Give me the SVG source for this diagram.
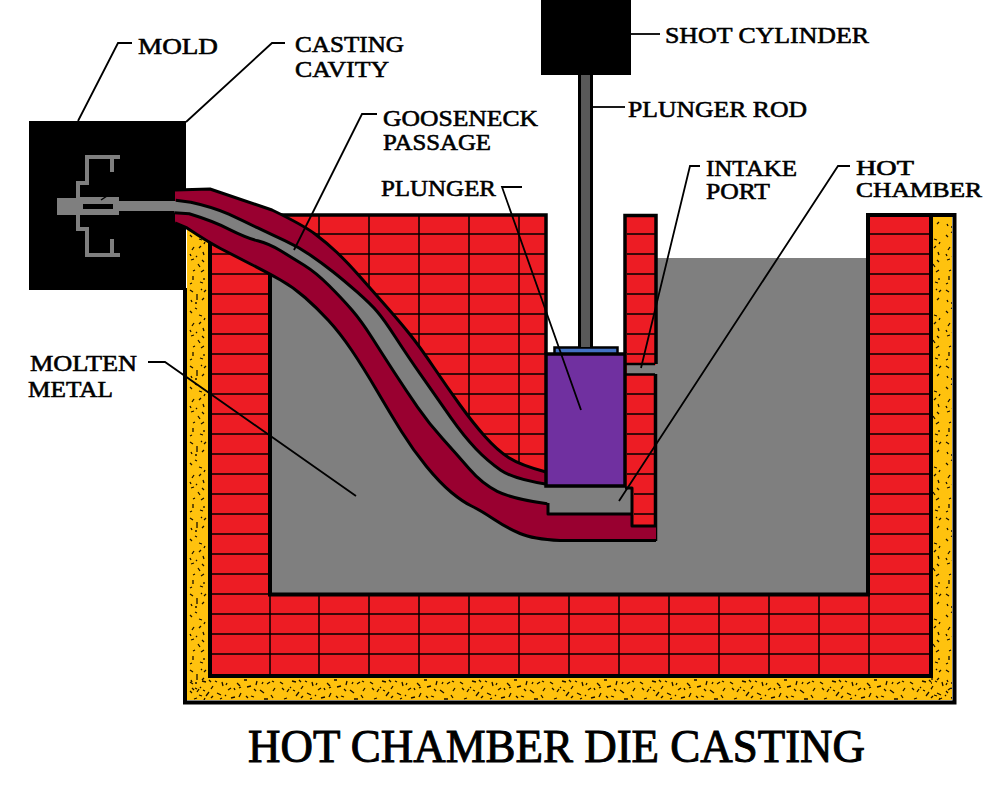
<svg xmlns="http://www.w3.org/2000/svg" width="1000" height="800" viewBox="0 0 1000 800">
<style>
.t{font-family:"Liberation Serif","Times New Roman",serif;font-size:24px;fill:#000;stroke:#000;stroke-width:.6px}
.m{font-size:23px}
.s{font-size:21px}
.title{font-size:47px;stroke-width:1px}
.l{fill:none;stroke:#000;stroke-width:1.8}
.b{fill:none;stroke:#000;stroke-width:1.5}
.k{fill:none;stroke:#000;stroke-width:4}
.e{fill:none;stroke:#000;stroke-width:3;stroke-linejoin:round}
.sp{fill:none;stroke:#1a1000;stroke-width:1.3}
</style>
<defs>
<pattern id="dense" width="90" height="24" patternUnits="userSpaceOnUse" patternTransform="translate(187 678)">
<path class="sp" d="M3 4l3 2M10 14l2-3M15 3l4 1M19 18l3-4M26 8l-2 3M30 15l4 2M35 4l1 4M41 12l3-2M44 20l4-1M50 5l3 3M54 15l-2 4M60 9l4-1M64 18l3 1M70 3l-1 4M73 12l4 3M80 6l3-2M84 17l2 3M7 21l3-1M33 21l2-1M57 2l3 0M77 21l4 0M47 10l1 2M22 2l2 2M88 10l-2 3M13 9l1 1M38 17l1 1M5 10l2 2M16 12l2 1M28 3l2 1M24 20l2-2M39 7l1-2M52 10l2-1M67 11l2 2M75 6l1-2M85 3l2 1M61 20l-2-2"/>
</pattern>
<pattern id="sparse" width="21" height="76" patternUnits="userSpaceOnUse" patternTransform="translate(187 230)">
<path class="sp" d="M3 5l2 2M12 9l3 1M7 17l-2 3M16 22l1 3M4 30l3-1M11 34l2 3M17 40l-3 2M6 46l0 4M13 52l3 1M3 60l3 2M10 64l0 6M17 68l-2 2M8 73l2 0M18 12l-1 2M9 26l1 1M14 59l1 1M8 2l2 1M14 16l-2 2M3 24l1 2M15 30l2 2M8 40l-2 1M17 48l0 2M3 54l2-1M17 62l2-2M4 70l1 2"/>
</pattern>
</defs>
<rect width="1000" height="800" fill="#fff"/>
<g id="furnace">
<path d="M187 215V700H952V215H931V676H208V215Z" fill="#ffc20e"/>
<path d="M187 226V700H208V226ZM931 217H952V700H931Z" fill="url(#sparse)"/>
<rect x="187" y="678" width="765" height="22" fill="url(#dense)"/>
</g>
<g id="brick-lining">
<path d="M208 214H546V487H625V214H656V541H868V214H931V676H208Z" fill="#ed1c24"/>
<path class="b" d="M208 234H546M208 254H546M208 274H546M208 294H546M208 314H546M208 334H546M208 354H546M208 374H546M208 394H546M208 414H546M208 434H546M208 454H546M208 474H270M208 494H270M208 514H270M208 534H270M208 554H270M208 574H270M208 594H270M627 234H656M627 254H656M627 274H656M627 294H656M627 314H656M627 334H656M627 354H656M627 394H656M627 414H656M627 434H656M627 454H656M627 474H656M634 494H656M634 514H656M868 234H931M868 254H931M868 274H931M868 294H931M868 314H931M868 334H931M868 354H931M868 374H931M868 394H931M868 414H931M868 434H931M868 454H931M868 474H931M868 494H931M868 514H931M868 534H931M868 554H931M868 574H931M868 594H931M208 614H931M208 634H931M208 654H931"/>
<path class="b" d="M319 214V290M369 214V300M419 214V400M469 214V470M519 214V480M270 596V676M319 596V676M369 596V676M419 596V676M469 596V676M519 596V676M569 596V676M619 596V676M669 596V676M719 596V676M769 596V676M819 596V676M869 596V676"/>
</g>
<g id="molten-metal">
<path fill="#7f7f7f" d="M270 272L293 287L317 308L340 333L363 367L390 413L413 450L440 483L463 502L480 510L507 528L533 539L560 541H656V258H868V594H270Z"/>
<path class="k" d="M270 272V594.500H868V215H931V676H210"/>
<path class="k" d="M210 240V678M185 288V702.500H954.500V215H868"/>
<path d="M280 215H546V353M625 353V215.500H656V364M655.500 374V541" fill="none" stroke="#000" stroke-width="3.500"/>
<rect x="627" y="365" width="30" height="9" fill="#7f7f7f"/>
<path d="M626 364H655M626 374.500H655" fill="none" stroke="#000" stroke-width="2.500"/>
</g>
<g id="mold">
<rect x="29" y="121" width="157" height="169" fill="#000"/>
<path fill="#7f7f7f" d="M85 155H120V159H114V172H110V159H89V185H80V197H119V215H80V227H89V253H110V239H114V253H120V257H85V231H76V215H57V198H76V181H85Z"/>
<rect x="83" y="204" width="30" height="5" fill="#000"/>
<path d="M101 200L107 196" stroke="#000" stroke-width="1.500"/>
<rect x="119" y="202" width="56" height="8" fill="#7f7f7f"/>
</g>
<g id="gooseneck">
<path fill="#990030" d="M175 190L210 189L272 210Q303 225 315 234Q327 243 337 252.500Q347 262 358.500 275Q370 288 385 305Q400 322 410 334.500Q420 347 433.500 367Q447 387 460 405Q473 423 485 436.500Q497 450 508.500 457.500Q520 465 546 472V487H625L632 488V526H656V541H560Q533 539 520 533.500Q507 528 493.500 519Q480 510 471.500 506Q463 502 451.500 492.500Q440 483 426.500 466.500Q413 450 401.500 431.500Q390 413 376.500 390Q363 367 351.500 350Q340 333 328.500 320.500Q317 308 305 297.500Q293 287 280.500 280Q268 273 250.500 264Q233 255 220.500 248.500Q208 242 187 228L175 223Z"/>
<path fill="#7f7f7f" stroke="#7f7f7f" stroke-width="2" d="M119 202H175L190 203Q213 208 228 215Q243 222 256.500 228.500Q270 235 284 241.500Q298 248 309 255.500Q320 263 331.500 272Q343 281 356.500 293Q370 305 376.500 312.500Q383 320 395 338.500Q407 357 422 378.500Q437 400 450 418.500Q463 437 475 449.500Q487 462 500 471Q513 480 546 485L625 487L632 488V514H548V503Q513 498 498 490.500Q483 483 470 468Q457 453 443.500 438Q430 423 418.500 406.500Q407 390 395 371.500Q383 353 372.500 336.500Q362 320 352.500 309Q343 298 330 285Q317 272 305 264.500Q293 257 281.500 250Q270 243 258.500 240Q247 237 230 228.500Q213 220 190 213L175 212V210H119Z"/>
<path class="e" d="M175 190L210 189L272 210Q303 225 315 234Q327 243 337 252.500Q347 262 358.500 275Q370 288 385 305Q400 322 410 334.500Q420 347 433.500 367Q447 387 460 405Q473 423 485 436.500Q497 450 508.500 457.500Q520 465 546 472"/>
<path class="e" transform="translate(.8 -.8)" d="M175 201L190 203Q213 208 228 215Q243 222 256.500 228.500Q270 235 284 241.500Q298 248 309 255.500Q320 263 331.500 272Q343 281 356.500 293Q370 305 376.500 312.500Q383 320 395 338.500Q407 357 422 378.500Q437 400 450 418.500Q463 437 475 449.500Q487 462 500 471Q513 480 546 485"/>
<path class="e" transform="translate(-.8 .8)" d="M175 212L190 213Q213 220 230 228.500Q247 237 258.500 240Q270 243 281.500 250Q293 257 305 264.500Q317 272 330 285Q343 298 352.500 309Q362 320 372.500 336.500Q383 353 395 371.500Q407 390 418.500 406.500Q430 423 443.500 438Q457 453 470 468Q483 483 498 490.500Q513 498 548 503"/>
<path class="e" d="M548 503V514H632V488H625M632 514V526H656"/>
<path class="e" d="M175 223L187 228Q208 242 220.500 248.500Q233 255 250.500 264Q268 273 280.500 280Q293 287 305 297.500Q317 308 328.500 320.500Q340 333 351.500 350Q363 367 376.500 390Q390 413 401.500 431.500Q413 450 426.500 466.500Q440 483 451.500 492.500Q463 502 471.500 506Q480 510 493.500 519Q507 528 520 533.500Q533 539 560 540.500H656"/>
</g>
<g id="plunger">
<rect x="546" y="354" width="79" height="132" fill="#7030a0" stroke="#000" stroke-width="3.500"/>
<rect x="554.500" y="347.500" width="63" height="6" fill="#4472c4" stroke="#000" stroke-width="2.500"/>
</g>
<g id="plunger-rod">
<rect x="578" y="74" width="15" height="273" fill="#000"/>
<rect x="581" y="74" width="9" height="273" fill="#595959"/>
</g>
<g id="shot-cylinder">
<rect x="541" y="0" width="90" height="75" fill="#000"/>
</g>
<g id="connectors">
<path class="l" d="M132 43H118L78 121"/>
<path class="l" d="M285 43H272L186 122"/>
<path class="l" d="M377 114H362L294 250"/>
<path class="l" d="M522 187H502L581 410"/>
<path class="l" d="M660 34H631"/>
<path class="l" d="M625 107H593"/>
<path class="l" d="M700 166H690L641 368"/>
<path class="l" d="M850 166H838L619 501"/>
<path class="l" d="M148 362H165L356 496"/>
</g>
<g id="labels">
<text class="t" x="138" y="54" textLength="80" lengthAdjust="spacingAndGlyphs">MOLD</text>
<text class="t" x="295" y="52" textLength="109" lengthAdjust="spacingAndGlyphs">CASTING</text>
<text class="t" x="295" y="77" textLength="94" lengthAdjust="spacingAndGlyphs">CAVITY</text>
<text class="t" x="383" y="126" textLength="155" lengthAdjust="spacingAndGlyphs">GOOSENECK</text>
<text class="t" x="383" y="150" textLength="108" lengthAdjust="spacingAndGlyphs">PASSAGE</text>
<text class="t" x="381" y="196" textLength="115" lengthAdjust="spacingAndGlyphs">PLUNGER</text>
<text class="t" x="665" y="43" textLength="204" lengthAdjust="spacingAndGlyphs">SHOT CYLINDER</text>
<text class="t" x="628" y="117" textLength="179" lengthAdjust="spacingAndGlyphs">PLUNGER ROD</text>
<text class="t m" x="706" y="176" textLength="91" lengthAdjust="spacingAndGlyphs">INTAKE</text>
<text class="t m" x="706" y="199" textLength="64" lengthAdjust="spacingAndGlyphs">PORT</text>
<text class="t s" x="856" y="175" textLength="58" lengthAdjust="spacingAndGlyphs">HOT</text>
<text class="t s" x="856" y="197" textLength="126" lengthAdjust="spacingAndGlyphs">CHAMBER</text>
<text class="t" x="30" y="371" textLength="107" lengthAdjust="spacingAndGlyphs">MOLTEN</text>
<text class="t" x="28" y="397" textLength="85" lengthAdjust="spacingAndGlyphs">METAL</text>
<text class="t title" x="248" y="762" textLength="617" lengthAdjust="spacingAndGlyphs">HOT CHAMBER DIE CASTING</text>
</g>
</svg>
